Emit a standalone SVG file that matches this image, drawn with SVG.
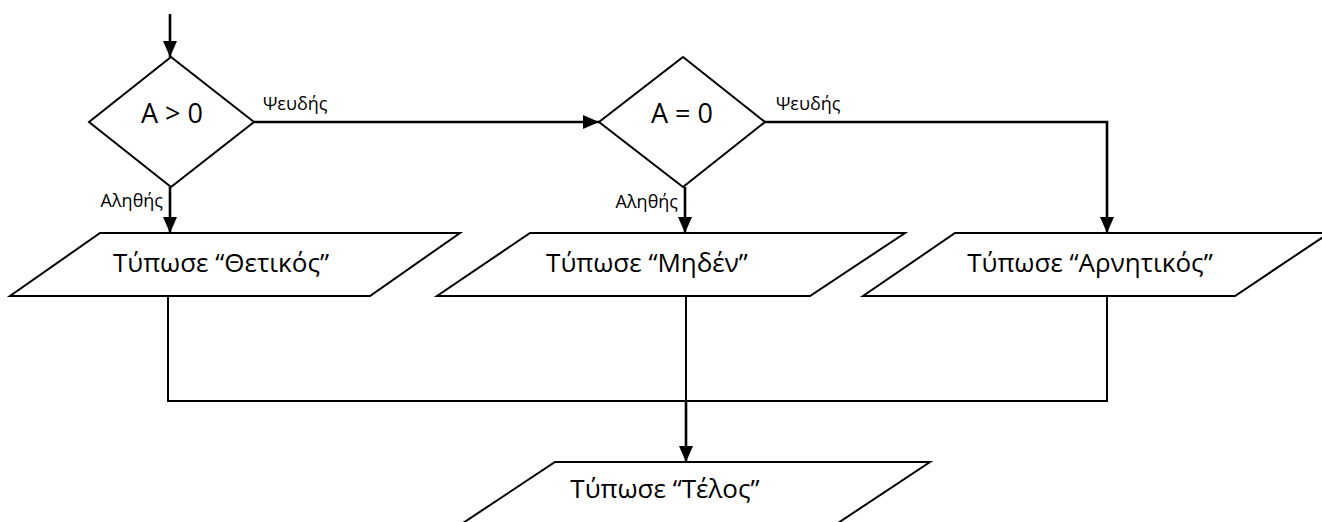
<svg xmlns="http://www.w3.org/2000/svg" width="1322" height="522" viewBox="0 0 1322 522">
  <defs>
    <marker id="head" viewBox="0 0 16 14" refX="16" refY="7" markerWidth="16" markerHeight="14" orient="auto" markerUnits="userSpaceOnUse">
      <path d="M0,0 L16,7 L0,14 Z" fill="#000"/>
    </marker>
  </defs>
  <style>
    .shape { fill: #fff; stroke: #000; stroke-width: 2; stroke-linejoin: miter; }
    .main { font-family: "Open Sans", "Liberation Sans", sans-serif; font-size: 26px; fill: #000; text-anchor: middle; }
    .cond { font-size: 27px; }
    .lbl { font-family: "Open Sans", "Liberation Sans", sans-serif; font-size: 18px; fill: #000; }
    .wire { fill: none; stroke: #000; stroke-width: 2; }
    .flow { fill: none; stroke: #000; stroke-width: 2.6; marker-end: url(#head); }
  </style>
  <rect width="1322" height="522" fill="#fff"/>

  <!-- connectors -->
  <g id="connectors">
    <line class="flow" x1="170" y1="14" x2="170" y2="57"/>
    <line class="flow" x1="254" y1="122" x2="599" y2="122"/>
    <line class="flow" x1="170" y1="187" x2="170" y2="233"/>
    <line class="flow" x1="685" y1="187" x2="685" y2="233"/>
    <polyline class="flow" points="765,122 1107,122 1107,233"/>
    <line class="wire" x1="168" y1="296" x2="168" y2="401"/>
    <line class="wire" x1="1107" y1="296" x2="1107" y2="401"/>
    <line class="wire" x1="167" y1="401" x2="1108" y2="401"/>
    <line class="wire" x1="686" y1="296" x2="686" y2="401"/>
    <line class="flow" x1="686" y1="401" x2="686" y2="462"/>
    <text class="lbl" x="263" y="110">Ψευδής</text>
    <text class="lbl" x="163" y="207" text-anchor="end">Αληθής</text>
    <text class="lbl" x="776" y="110">Ψευδής</text>
    <text class="lbl" x="678" y="208" text-anchor="end">Αληθής</text>
  </g>

  <!-- decision: A > 0 -->
  <g id="dec-positive">
    <polygon class="shape" points="171,57 254,122 171,187 89,122"/>
    <text class="main cond" x="172" y="123">A &gt; 0</text>
  </g>

  <!-- decision: A = 0 -->
  <g id="dec-zero">
    <polygon class="shape" points="683,57 765,122 683,187 599,122"/>
    <text class="main cond" x="682" y="123">A = 0</text>
  </g>

  <!-- output: positive -->
  <g id="out-positive">
    <polygon class="shape" points="100,233 460,233 370,296 10,296"/>
    <text class="main" x="221" y="272">Τύπωσε “Θετικός”</text>
  </g>

  <!-- output: zero -->
  <g id="out-zero">
    <polygon class="shape" points="530,233 905,233 810,296 437,296"/>
    <text class="main" x="647" y="272">Τύπωσε “Μηδέν”</text>
  </g>

  <!-- output: negative -->
  <g id="out-negative">
    <polygon class="shape" points="955,233 1329,233 1235,296 863,296"/>
    <text class="main" x="1090" y="272">Τύπωσε “Αρνητικός”</text>
  </g>

  <!-- output: end -->
  <g id="out-end">
    <polygon class="shape" points="555,462 930,462 835,525 460,525"/>
    <text class="main" x="665" y="498">Τύπωσε “Τέλος”</text>
  </g>
</svg>
